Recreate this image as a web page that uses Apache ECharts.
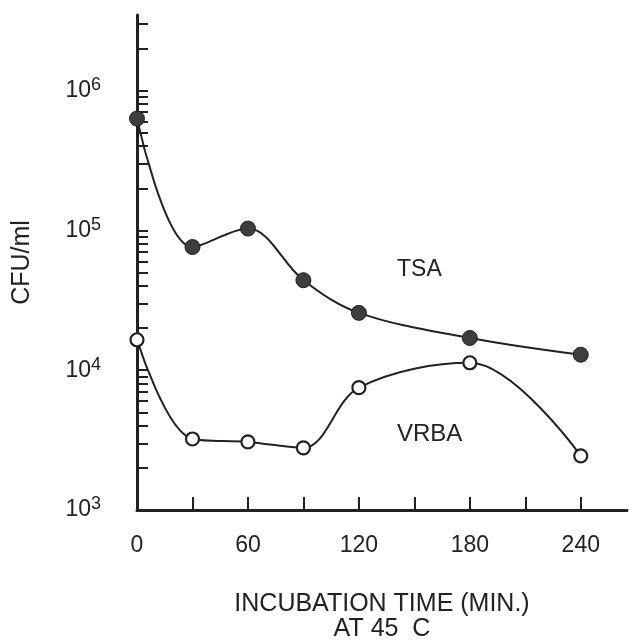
<!DOCTYPE html>
<html>
<head>
<meta charset="utf-8">
<script src="https://cdn.jsdelivr.net/npm/echarts@6/dist/echarts.min.js"></script>
<style>html,body{margin:0;padding:0;background:#fff}#c{width:629px;height:641px}</style>
</head>
<body>
<div id="c"></div>
<script>
// Data (time in minutes, CFU/ml)
var times = [0, 30, 60, 90, 120, 180, 240];
var tsa = [630000, 76000, 103000, 44000, 25700, 17000, 12900];
var vrba = [16500, 3220, 3070, 2780, 7500, 11300, 2440];
var xTickValues = [30, 60, 90, 120, 150, 180, 210, 240];
var xLabelValues = [0, 60, 120, 180, 240];
var yLabelValues = [1000, 10000, 100000, 1000000];
var yTickValues = [1000,2000,3000,4000,5000,6000,7000,8000,9000,
  10000,20000,30000,40000,50000,60000,70000,80000,90000,
  100000,200000,300000,400000,500000,600000,700000,800000,900000,
  1000000,2000000,3000000];

var font = 'Liberation Sans, Arial, Helvetica, sans-serif';
var ink = '#222';

function pairs(xs, ys){ return xs.map(function(x,i){return [x, ys[i]];}); }

var chart = echarts.init(document.getElementById('c'), null, {renderer:'canvas'});
chart.setOption({
  animation: false,
  backgroundColor: '#fff',
  grid: {left: 137, right: 2, top: 15, bottom: 131, containLabel: false, outerBoundsMode: 'none'},
  xAxis: {
    type: 'value', min: 0, max: 265,
    axisLine: {show: true, onZero: false, lineStyle: {color: ink, width: 3}},
    axisTick: {show: true, inside: true, length: 13, customValues: xTickValues, lineStyle: {color: ink, width: 2}},
    axisLabel: {customValues: xLabelValues, margin: 24, color: ink, fontSize: 23, fontFamily: font},
    splitLine: {show: false},
    name: 'INCUBATION TIME (MIN.)\nAT 45  C',
    nameLocation: 'middle', nameGap: 82,
    nameTextStyle: {color: ink, fontSize: 25, lineHeight: 25, fontFamily: font, align: 'center'}
  },
  yAxis: {
    type: 'log', logBase: 10, min: 1000, max: 3470000,
    axisLine: {show: true, lineStyle: {color: ink, width: 3}},
    axisTick: {show: true, inside: true, length: 11, customValues: yTickValues, lineStyle: {color: ink, width: 2}},
    axisLabel: {
      customValues: yLabelValues, margin: 36, color: ink, fontFamily: font,
      formatter: function(v){ var e = Math.round(Math.log(v)/Math.LN10); return '{b|10}{s|' + e + '}'; },
      rich: {
        b: {fontSize: 23, fontFamily: font, color: ink},
        s: {fontSize: 18, fontFamily: font, color: ink, padding: [0,0,11,0]}
      }
    },
    splitLine: {show: false},
    minorTick: {show: false},
    name: 'CFU/ml', nameLocation: 'middle', nameRotate: 90, nameGap: 102,
    nameTextStyle: {color: ink, fontSize: 25, fontFamily: font}
  },
  graphic: [
    {type: 'text', left: 397, top: 258, style: {text: 'TSA', font: '23px ' + font, fill: ink}},
    {type: 'text', left: 397, top: 422, style: {text: 'VRBA', font: '24px ' + font, fill: ink}}
  ],
  series: [
    {
      name: 'TSA', type: 'line', data: pairs(times, tsa), smooth: 0.35,
      symbol: 'circle', symbolSize: 15,
      lineStyle: {color: ink, width: 2},
      itemStyle: {color: '#3d3d3d', borderColor: '#222', borderWidth: 1},
      z: 3
    },
    {
      name: 'VRBA', type: 'line', data: pairs(times, vrba), smooth: 0.35,
      symbol: 'circle', symbolSize: 13,
      lineStyle: {color: ink, width: 2},
      itemStyle: {color: '#fff', borderColor: ink, borderWidth: 2.2},
      z: 3
    }
  ]
});
</script>
</body>
</html>
